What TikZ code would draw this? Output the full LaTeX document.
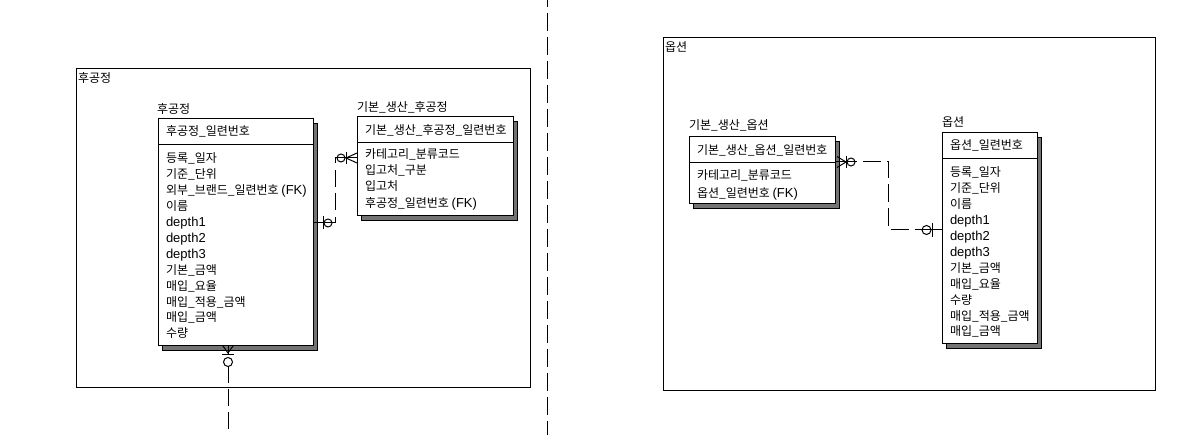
\documentclass[tikz,border=0pt]{standalone}
\usepackage{fontspec}
\setmainfont{Noto Sans CJK KR}
\newfontfamily\latf{Liberation Sans}
\newcommand\Lt[1]{{\latf\fontsize{13pt}{13pt}\selectfont #1}}
\usetikzlibrary{shadows}
\begin{document}
\begin{tikzpicture}[x=1pt,y=-1pt,
  every node/.style={inner sep=0pt, outer sep=0pt},
  txt/.style={anchor=base west, font=\fontsize{12pt}{14pt}\selectfont},
  ent/.style={draw, line width=1pt, fill=white, anchor=north west,
    general shadow={fill=black!55, draw=black, line width=0.6pt, shadow xshift=4pt, shadow yshift=-4pt}},
  grp/.style={draw, line width=1pt, anchor=north west},
  sym/.style={line width=1pt},
  hdr/.style={line width=1pt},
  divider/.style={line width=1pt, dash pattern=on 18pt off 6pt, dash phase=11pt},
  ]
\useasboundingbox (0,0) rectangle (1202,435);

% groups
\node[grp, minimum width=454pt, minimum height=319pt] (g1) at (76,69) {};
\node[txt] (g1-t) at (78,83) {후공정};
\node[grp, minimum width=492pt, minimum height=353pt] (g2) at (663,38) {};
\node[txt] (g2-t) at (665,52) {옵션};

% divider
\coordinate (dv1) at (547,0);
\coordinate (dv2) at (547,435);
\draw[divider] (dv1) -- (dv2);

% entity 후공정
\node[ent, minimum width=155pt, minimum height=227pt] (hp) at (158,119) {};
\draw[hdr] ([yshift=-26pt]hp.north west) -- ([yshift=-26pt]hp.north east);
\node[txt] (hp-t) at (157,114) {후공정};
\node[txt] (hp-k) at (166,136) {후공정\_일련번호};
\node[txt] (hp-a1) at (166,163) {등록\_일자};
\node[txt] (hp-a2) at (166,178.9) {기준\_단위};
\node[txt] (hp-a3) at (166,194.8) {외부\_브랜드\_일련번호 \Lt{(FK)}};
\node[txt] (hp-a4) at (166,210.7) {이름};
\node[txt] (hp-a5) at (166,226.6) {\Lt{depth1}};
\node[txt] (hp-a6) at (166,242.5) {\Lt{depth2}};
\node[txt] (hp-a7) at (166,258.4) {\Lt{depth3}};
\node[txt] (hp-a8) at (166,274.3) {기본\_금액};
\node[txt] (hp-a9) at (166,290.2) {매입\_요율};
\node[txt] (hp-a10) at (166,306.1) {매입\_적용\_금액};
\node[txt] (hp-a11) at (166,322) {매입\_금액};
\node[txt] (hp-a12) at (166,337.9) {수량};

% entity 기본_생산_후공정
\node[ent, minimum width=156pt, minimum height=99pt] (bp) at (357,117) {};
\draw[hdr] ([yshift=-26pt]bp.north west) -- ([yshift=-26pt]bp.north east);
\node[txt] (bp-t) at (357,112) {기본\_생산\_후공정};
\node[txt] (bp-k) at (365,135) {기본\_생산\_후공정\_일련번호};
\node[txt] (bp-a1) at (365,158.5) {카테고리\_분류코드};
\node[txt] (bp-a2) at (365,174.7) {입고처\_구분};
\node[txt] (bp-a3) at (365,190.9) {입고처};
\node[txt] (bp-a4) at (365,207.1) {후공정\_일련번호 \Lt{(FK)}};

% entity 기본_생산_옵션
\node[ent, minimum width=146.5pt, minimum height=67pt] (bpo) at (689,137) {};
\draw[hdr] ([yshift=-26pt]bpo.north west) -- ([yshift=-26pt]bpo.north east);
\node[txt] (bpo-t) at (689,130) {기본\_생산\_옵션};
\node[txt] (bpo-k) at (697,155) {기본\_생산\_옵션\_일련번호};
\node[txt] (bpo-a1) at (697,180) {카테고리\_분류코드};
\node[txt] (bpo-a2) at (697,198) {옵션\_일련번호 \Lt{(FK)}};

% entity 옵션
\node[ent, minimum width=95pt, minimum height=211pt] (op) at (942,133) {};
\draw[hdr] ([yshift=-26pt]op.north west) -- ([yshift=-26pt]op.north east);
\node[txt] (op-t) at (942,127) {옵션};
\node[txt] (op-k) at (950,150) {옵션\_일련번호};
\node[txt] (op-a1) at (950,177) {등록\_일자};
\node[txt] (op-a2) at (950,192.9) {기준\_단위};
\node[txt] (op-a3) at (950,208.8) {이름};
\node[txt] (op-a4) at (950,224.7) {\Lt{depth1}};
\node[txt] (op-a5) at (950,240.6) {\Lt{depth2}};
\node[txt] (op-a6) at (950,256.5) {\Lt{depth3}};
\node[txt] (op-a7) at (950,272.4) {기본\_금액};
\node[txt] (op-a8) at (950,288.3) {매입\_요율};
\node[txt] (op-a9) at (950,304.2) {수량};
\node[txt] (op-a10) at (950,320.1) {매입\_적용\_금액};
\node[txt] (op-a11) at (950,336) {매입\_금액};

% relationship 1: 후공정 -> 기본_생산_후공정
\coordinate (r1s) at (bp.west |- 0,158);
\coordinate (r1e) at (hp.east |- 0,223);
\draw[line width=1pt, dash pattern=on 27pt off 7pt on 17pt off 6pt on 17pt off 7pt on 40pt]
  (r1s) -- ++(-22,0) |- (r1e);
\draw[sym] (r1s) ++(0,-5) -- ++(-11,5) -- ++(11,5);
\draw[sym] (r1s) ++(-11,-6) -- ++(0,12);
\draw[sym] (r1s) ++(-16,0) circle[radius=4pt];
\draw[sym] (r1e) ++(10,-6.5) -- ++(0,13);
\draw[sym] (r1e) ++(15,0) circle[radius=4pt];

% relationship 2: 옵션 -> 기본_생산_옵션
\coordinate (r2s) at (bpo.east |- 0,162);
\coordinate (r2e) at (op.west |- 0,230);
\draw[line width=1pt, dash pattern=on 21pt off 6pt on 18pt off 6pt on 18pt off 6pt on 18pt off 6pt on 18pt off 6pt on 18pt off 6pt on 40pt]
  (r2s) -- ++(52.5,0) |- (r2e);
\draw[sym] (r2s) ++(1.5,-5.5) -- ++(9,5.5) -- ++(-9,5.5);
\draw[sym] (r2s) ++(10.5,-6) -- ++(0,12);
\draw[sym] (r2s) ++(15.5,0) circle[radius=4pt];
\draw[sym] (r2e) ++(-10,-7) -- ++(0,14);
\draw[sym] (r2e) ++(-15.5,0) circle[radius=4.5pt];

% relationship 3: 후공정 -> below
\coordinate (r3s) at (hp.south -| 228,0);
\coordinate (r3e) at (228,435);
\draw[line width=1pt, dash pattern=on 9pt off 11pt on 17pt off 6pt on 17pt off 6pt on 17pt off 6pt on 20pt]
  (r3s) -- (r3e);
\draw[sym] (r3s) ++(-5,0) -- ++(5,7) -- ++(5,-7);
\draw[sym] (r3s) ++(-6,9) -- ++(12,0);
\draw[sym] (r3s) ++(0,16) circle[radius=4.5pt];
\end{tikzpicture}
\end{document}
